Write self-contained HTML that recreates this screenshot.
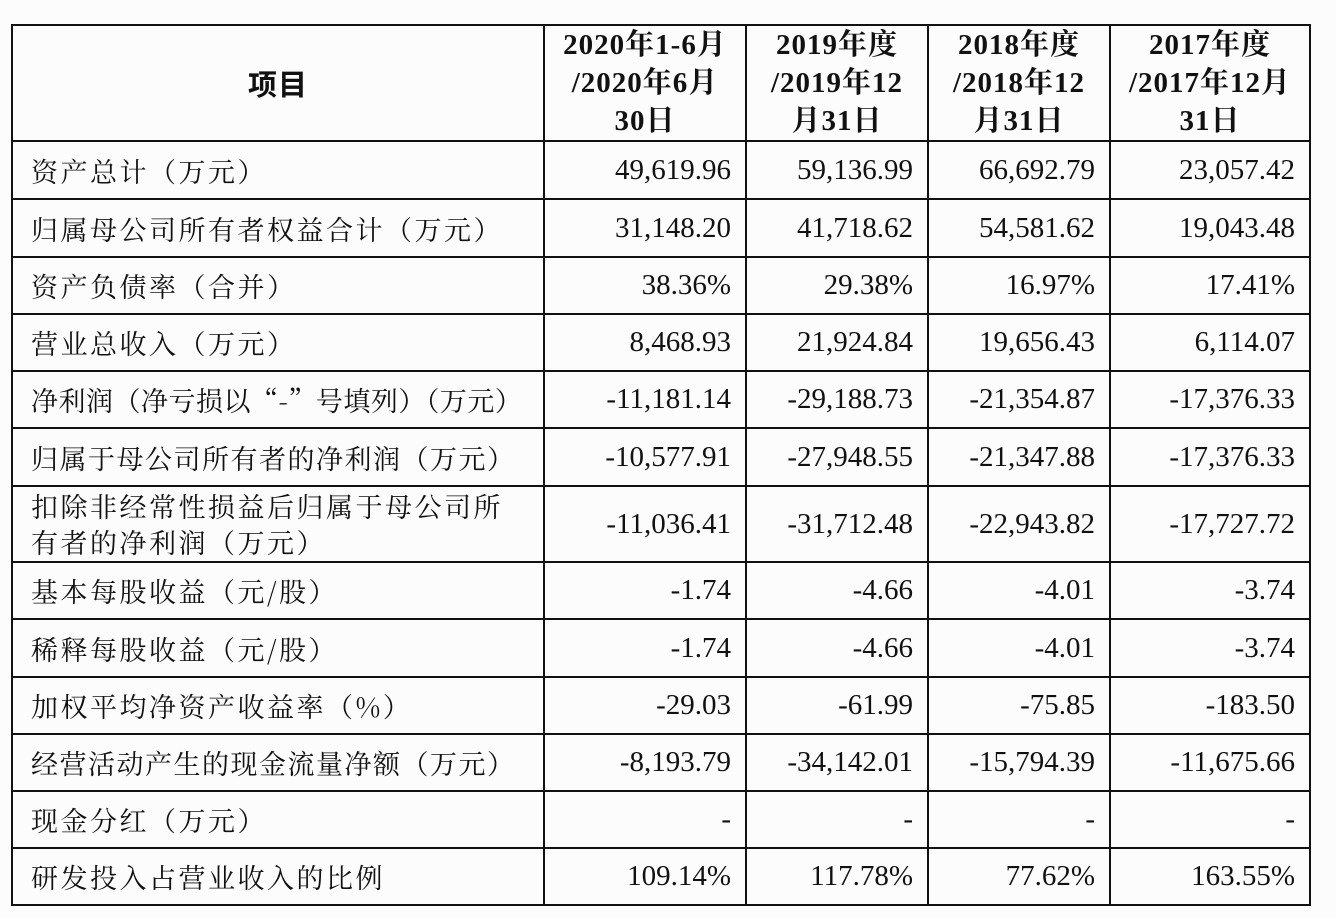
<!DOCTYPE html>
<html><head><meta charset="utf-8"><style>
body{margin:0;background:#fdfcfd;width:1336px;height:918px;overflow:hidden}
table{position:absolute;left:11px;top:24px;width:1298px;border-collapse:collapse;table-layout:fixed;color:#111}
td{border:2px solid #111;padding:0 14px 0 18px;font-family:"Liberation Serif","Noto Serif CJK SC",serif;font-size:29px;text-align:right;line-height:31px;white-space:nowrap;overflow:visible}
td.l{text-align:left;padding-left:18px;padding-right:0;font-size:27px;font-family:"Noto Serif CJK SC","Liberation Serif",serif;letter-spacing:2.5px}
tr.h td{text-align:center;font-weight:bold;font-size:29px;line-height:38px;padding:0;letter-spacing:1px}
</style></head><body>
<table>
<colgroup><col style="width:532px"><col style="width:202px"><col style="width:182px"><col style="width:182px"><col style="width:200px"></colgroup>
<tr class="h" style="height:116px"><td style="font-family:'Noto Sans CJK SC',sans-serif">项目</td><td>2020年1-6月<br>/2020年6月<br>30日</td><td>2019年度<br>/2019年12<br>月31日</td><td>2018年度<br>/2018年12<br>月31日</td><td>2017年度<br>/2017年12月<br>31日</td></tr>
<tr style="height:58px"><td class="l">资产总计（万元）</td><td>49,619.96</td><td>59,136.99</td><td>66,692.79</td><td>23,057.42</td></tr>
<tr style="height:58px"><td class="l">归属母公司所有者权益合计（万元）</td><td>31,148.20</td><td>41,718.62</td><td>54,581.62</td><td>19,043.48</td></tr>
<tr style="height:57px"><td class="l">资产负债率（合并）</td><td>38.36%</td><td>29.38%</td><td>16.97%</td><td>17.41%</td></tr>
<tr style="height:57px"><td class="l">营业总收入（万元）</td><td>8,468.93</td><td>21,924.84</td><td>19,656.43</td><td>6,114.07</td></tr>
<tr style="height:57px"><td class="l" style="letter-spacing:0.5px">净利润（净亏损以“-”号填列）（万元）</td><td>-11,181.14</td><td>-29,188.73</td><td>-21,354.87</td><td>-17,376.33</td></tr>
<tr style="height:58px"><td class="l" style="letter-spacing:1.5px">归属于母公司所有者的净利润（万元）</td><td>-10,577.91</td><td>-27,948.55</td><td>-21,347.88</td><td>-17,376.33</td></tr>
<tr style="height:76px"><td class="l" style="line-height:36px">扣除非经常性损益后归属于母公司所<br>有者的净利润（万元）</td><td>-11,036.41</td><td>-31,712.48</td><td>-22,943.82</td><td>-17,727.72</td></tr>
<tr style="height:57px"><td class="l">基本每股收益（元/股）</td><td>-1.74</td><td>-4.66</td><td>-4.01</td><td>-3.74</td></tr>
<tr style="height:58px"><td class="l">稀释每股收益（元/股）</td><td>-1.74</td><td>-4.66</td><td>-4.01</td><td>-3.74</td></tr>
<tr style="height:57px"><td class="l">加权平均净资产收益率（%）</td><td>-29.03</td><td>-61.99</td><td>-75.85</td><td>-183.50</td></tr>
<tr style="height:57px"><td class="l" style="letter-spacing:1.5px">经营活动产生的现金流量净额（万元）</td><td>-8,193.79</td><td>-34,142.01</td><td>-15,794.39</td><td>-11,675.66</td></tr>
<tr style="height:57px"><td class="l">现金分红（万元）</td><td>-</td><td>-</td><td>-</td><td>-</td></tr>
<tr style="height:57px"><td class="l">研发投入占营业收入的比例</td><td>109.14%</td><td>117.78%</td><td>77.62%</td><td>163.55%</td></tr>
</table>
</body></html>
